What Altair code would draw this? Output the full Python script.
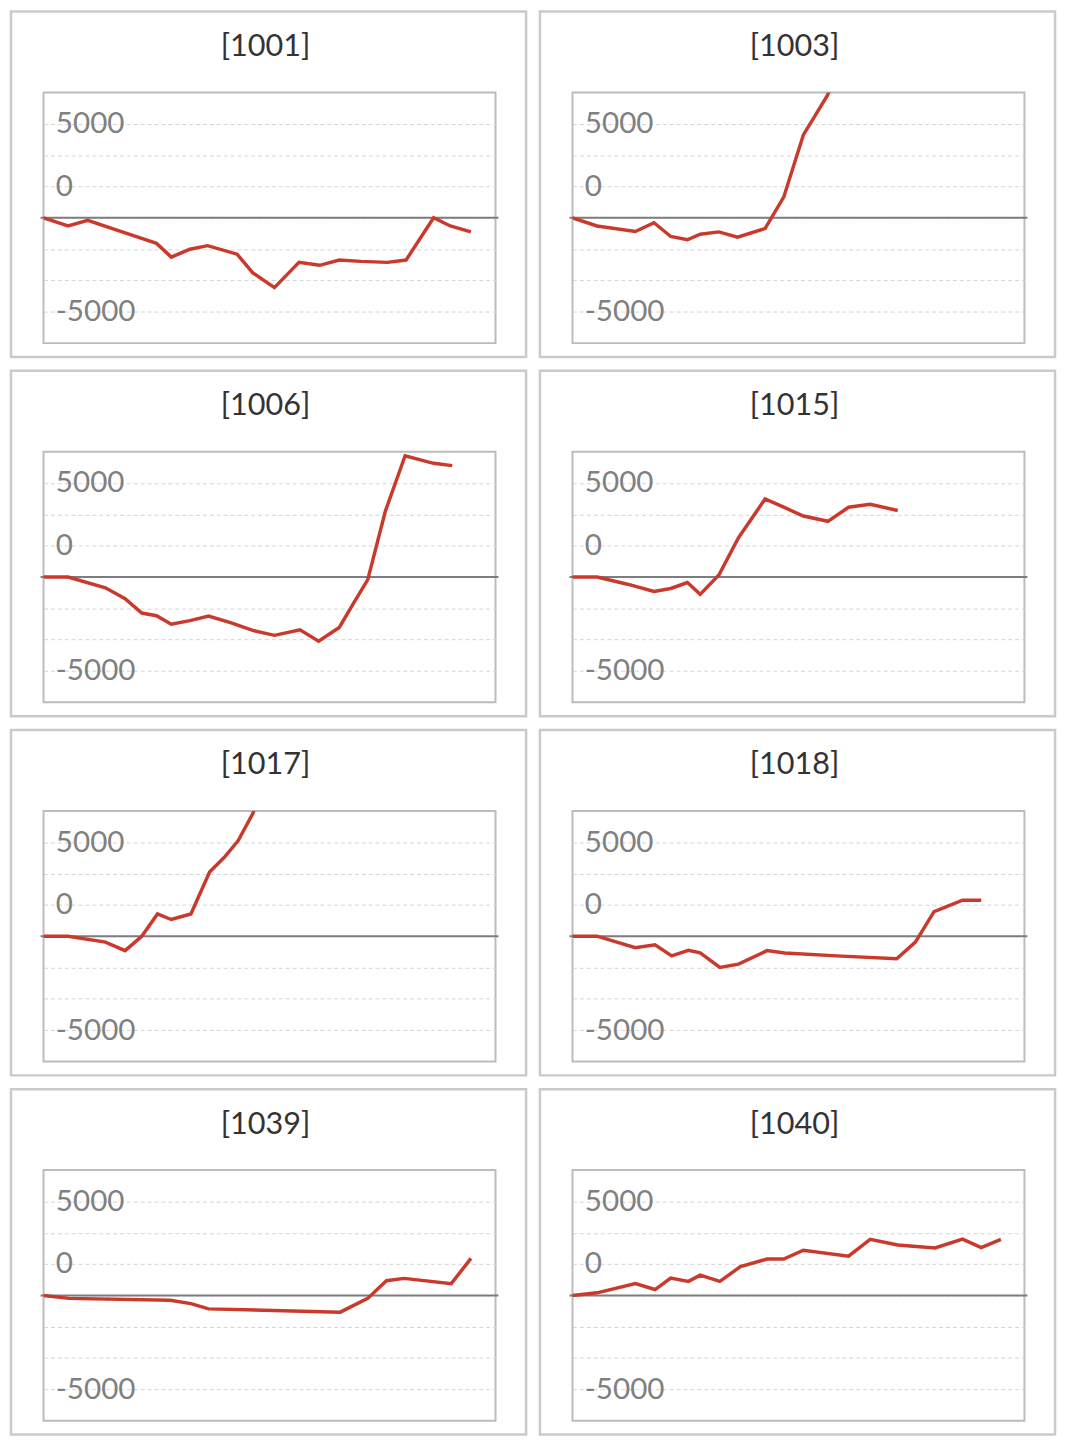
import altair as alt
import pandas as pd

# ---- data (x: position along the day, 0-460 ; y: difference in coins) ----
names = ["[1001]", "[1003]", "[1006]", "[1015]", "[1017]", "[1018]", "[1039]", "[1040]"]

x_1001 = [0, 25, 45, 80, 115, 130, 149, 167, 197, 213, 235, 260, 281, 301, 323, 350, 369, 397, 414, 435]
y_1001 = [0, -436, -140, -750, -1360, -2092, -1673, -1482, -1935, -2928, -3713, -2370, -2527, -2248, -2318, -2370, -2248, 0, -436, -750]

x_1003 = [0, 25, 64, 83, 100, 117, 130, 149, 168, 196, 215, 235, 259, 275]
y_1003 = [0, -436, -732, -261, -994, -1168, -872, -750, -1028, -575, 1098, 4410, 6467, 8200]

x_1006 = [0, 25, 63, 83, 100, 115, 130, 149, 168, 191, 213, 235, 261, 280, 301, 315, 330, 348, 368, 397, 416]
y_1006 = [0, 0, -575, -1150, -1917, -2057, -2510, -2318, -2074, -2440, -2841, -3103, -2806, -3416, -2684, -1447, -139, 3521, 6449, 6048, 5926]

x_1015 = [0, 25, 56, 83, 100, 117, 130, 149, 169, 196, 215, 235, 260, 281, 303, 331]
y_1015 = [0, 0, -383, -767, -610, -296, -924, 105, 2092, 4148, 3713, 3242, 2963, 3713, 3869, 3538]

x_1017 = [0, 25, 63, 83, 100, 116, 130, 150, 169, 184, 198, 213, 222]
y_1017 = [0, 0, -314, -767, 0, 1185, 889, 1185, 3416, 4201, 5072, 6519, 8000]

x_1018 = [0, 25, 64, 84, 101, 118, 130, 150, 169, 198, 216, 269, 330, 349, 368, 397, 416]
y_1018 = [0, 0, -610, -453, -1046, -750, -889, -1656, -1482, -767, -889, -1046, -1203, -314, 1307, 1917, 1917]

x_1039 = [0, 26, 129, 150, 168, 302, 330, 349, 367, 415, 435]
y_1039 = [0, -157, -261, -436, -715, -889, -157, 784, 906, 627, 1970]

x_1040 = [0, 25, 64, 84, 100, 118, 130, 150, 171, 198, 215, 235, 281, 303, 331, 369, 397, 416, 436]
y_1040 = [0, 139, 627, 314, 924, 750, 1081, 750, 1534, 1935, 1935, 2405, 2092, 2981, 2684, 2527, 2998, 2545, 2981]

series = [(x_1001, y_1001), (x_1003, y_1003), (x_1006, y_1006), (x_1015, y_1015),
          (x_1017, y_1017), (x_1018, y_1018), (x_1039, y_1039), (x_1040, y_1040)]

# ---- style ----
STEP = 5000 / 3
Y_TICKS = [round(STEP * k, 2) for k in range(-4, 5)]
W, H = 458, 254
RED = "#c93a2c"
FONT = "Lato"

label_expr = ("datum.value == 5000 ? '5000' : datum.value == -5000 ? '-5000' : "
              "(abs(datum.value - 1666.67) < 1 ? '0' : '')")


def y_axis():
    return alt.Axis(values=Y_TICKS, labelExpr=label_expr, domain=False, ticks=False,
                    tickSize=0, labelAlign="left", labelPadding=-12,
                    labelBaseline="middle", labelFontSize=30, labelFont=FONT,
                    labelFontWeight="normal", labelColor="#808080",
                    grid=True, gridColor="#d4d4d4", gridDash=[4, 3], gridWidth=1)


def panel(name, xs, ys):
    df = pd.DataFrame({"t": xs, "v": ys})
    yscale = alt.Scale(domain=[-4 * STEP, 4 * STEP], nice=False, zero=False)
    line = alt.Chart(df).mark_line(color=RED, strokeWidth=3.5, clip=True).encode(
        x=alt.X("t:Q", scale=alt.Scale(domain=[0, 460], nice=False, zero=False), axis=None),
        y=alt.Y("v:Q", scale=yscale, title=None, axis=y_axis()),
    )
    zero = alt.Chart(pd.DataFrame({"z": [0]})).mark_rule(color="#7d7d7d", strokeWidth=2).encode(
        y=alt.Y("z:Q", scale=yscale, title=None, axis=y_axis()),
        x=alt.value(-3), x2=alt.value(W + 3),
    )
    meta = pd.DataFrame({"n": [name]})
    frame = alt.Chart(meta).mark_rect(fillOpacity=0, stroke="#cacaca", strokeWidth=2.5, clip=False).encode(
        x=alt.value(-33), x2=alt.value(W + 31), y=alt.value(-82), y2=alt.value(H + 14)
    )
    title = alt.Chart(meta).mark_text(fontSize=31, font=FONT, fontWeight="normal", color="#333333",
                                      align="center", baseline="middle", clip=False).encode(
        text="n:N", x=alt.value(W / 2 - 4), y=alt.value(-46)
    )
    return alt.layer(frame, zero, line, title).properties(width=W, height=H)


panels = [panel(n, xs, ys) for n, (xs, ys) in zip(names, series)]

chart = alt.concat(*panels, columns=2, spacing=8).properties(
    padding={"left": 0, "top": -9, "right": 0, "bottom": 0}
).configure_view(stroke="#bcbcbc", strokeWidth=2)

chart.save("out.html", embed_options={"renderer": "svg", "actions": False})
